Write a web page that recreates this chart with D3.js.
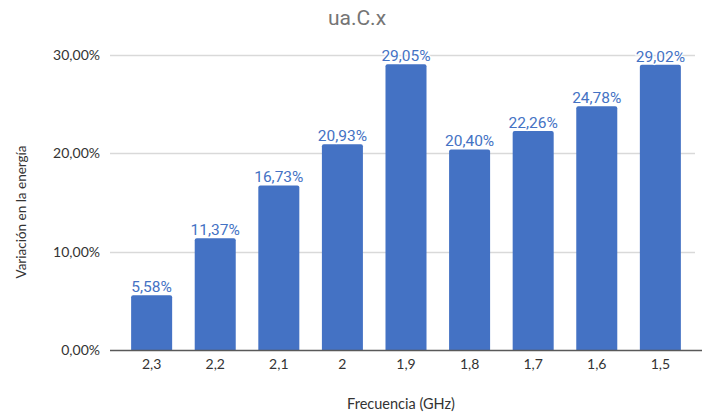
<!DOCTYPE html>
<html>
<head>
<meta charset="utf-8">
<script src="https://cdn.jsdelivr.net/npm/d3@7"></script>
<style>
  html, body { margin: 0; padding: 0; background: #fff; }
  svg { display: block; }
</style>
</head>
<body>
<svg id="chart" width="709" height="417"></svg>
<script>
// Frequency categories (GHz) and energy variation (%) per category
const categories = ["2,3", "2,2", "2,1", "2", "1,9", "1,8", "1,7", "1,6", "1,5"];
const values = [5.58, 11.37, 16.73, 20.93, 29.05, 20.40, 22.26, 24.78, 29.02];
const yTicks = [0, 10, 20, 30];

const title = "ua.C.x";
const xTitle = "Frecuencia (GHz)";
const yTitle = "Variación en la energía";

const fmtPct = v => d3.format(".2f")(v).replace(".", ",") + "%";

const svg = d3.select("#chart");
const plot = { left: 110, right: 700, top: 55, bottom: 350 };

const x = d3.scaleBand()
  .domain(categories)
  .range([120, 692])
  .paddingInner(0.355)
  .paddingOuter(0.175);

const y = d3.scaleLinear()
  .domain([0, 30])
  .range([plot.bottom, plot.top]);

const axisFont = "Lato, 'Open Sans', sans-serif";
const labelFont = "Roboto, sans-serif";

// Title
svg.append("text")
  .attr("x", 357).attr("y", 25)
  .attr("text-anchor", "middle")
  .attr("font-family", labelFont)
  .attr("font-size", 21)
  .attr("fill", "#757575")
  .text(title);

// Horizontal gridlines
svg.append("g")
  .selectAll("line")
  .data(yTicks.filter(t => t > 0))
  .join("line")
  .attr("x1", plot.left).attr("x2", 695)
  .attr("y1", d => Math.round(y(d)) + 0.5)
  .attr("y2", d => Math.round(y(d)) + 0.5)
  .attr("stroke", "#d9d9d9")
  .attr("stroke-width", 1.3);

// Y axis tick labels
const yAxis = d3.axisLeft(y).tickValues(yTicks).tickSize(0).tickPadding(0)
  .tickFormat(fmtPct);
const gy = svg.append("g")
  .attr("transform", `translate(${plot.left - 10},0)`)
  .call(yAxis);
gy.select(".domain").remove();
gy.selectAll("text")
  .attr("font-family", axisFont)
  .attr("font-size", 14)
  .attr("fill", "#333");

// Bars with slightly rounded tops
const r = 2;
function barPath(d, i) {
  const x0 = x(categories[i]), w = x.bandwidth();
  const yt = y(d), yb = y(0);
  return `M${x0},${yb}V${yt + r}Q${x0},${yt} ${x0 + r},${yt}` +
         `H${x0 + w - r}Q${x0 + w},${yt} ${x0 + w},${yt + r}V${yb}Z`;
}
svg.append("g")
  .selectAll("path")
  .data(values)
  .join("path")
  .attr("d", barPath)
  .attr("fill", "#4472C4");

// X axis baseline
svg.append("line")
  .attr("x1", plot.left).attr("x2", 702)
  .attr("y1", plot.bottom + 0.5).attr("y2", plot.bottom + 0.5)
  .attr("stroke", "#595959")
  .attr("stroke-width", 1.3);

// X axis tick labels
const xAxis = d3.axisBottom(x).tickSize(0).tickPadding(0);
const gx = svg.append("g")
  .attr("transform", `translate(0,${plot.bottom + 9})`)
  .call(xAxis);
gx.select(".domain").remove();
gx.selectAll("text")
  .attr("font-family", axisFont)
  .attr("font-size", 14)
  .attr("fill", "#333")
  .attr("dy", "0.71em");

// Value labels above bars
svg.append("g")
  .selectAll("text")
  .data(values)
  .join("text")
  .attr("x", (d, i) => x(categories[i]) + x.bandwidth() / 2)
  .attr("y", d => y(d) - 3)
  .attr("text-anchor", "middle")
  .attr("font-family", labelFont)
  .attr("font-size", 15.5)
  .attr("fill", "#4472C4")
  .attr("stroke", "#fff")
  .attr("stroke-width", 2.5)
  .attr("paint-order", "stroke")
  .text(fmtPct);

// Axis titles
svg.append("text")
  .attr("x", 401).attr("y", 409)
  .attr("text-anchor", "middle")
  .attr("font-family", axisFont)
  .attr("font-size", 14.5)
  .attr("fill", "#333")
  .text(xTitle);

svg.append("text")
  .attr("transform", "translate(26,212) rotate(-90)")
  .attr("text-anchor", "middle")
  .attr("font-family", axisFont)
  .attr("font-size", 13.5)
  .attr("fill", "#333")
  .text(yTitle);
</script>
</body>
</html>
